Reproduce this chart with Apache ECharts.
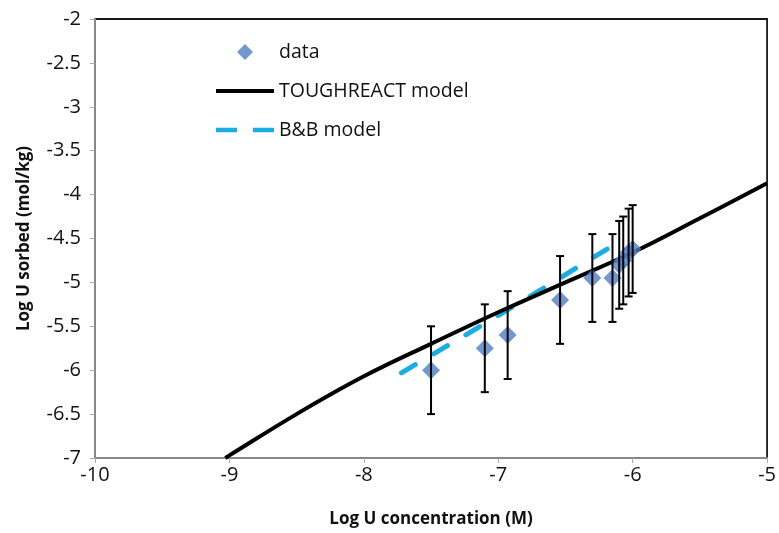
<!DOCTYPE html>
<html>
<head>
<meta charset="utf-8">
<script src="https://cdn.jsdelivr.net/npm/echarts@6/dist/echarts.min.js"></script>
<style>
html,body{margin:0;padding:0;background:#fff;}
#c{width:779px;height:533px;}
</style>
</head>
<body>
<div id="c"></div>
<script>
// Measured data
var dataX = [-7.5, -7.1, -6.93, -6.54, -6.3, -6.15, -6.1, -6.07, -6.03, -6.0];
var dataY = [-6.0, -5.75, -5.6, -5.2, -4.95, -4.95, -4.8, -4.75, -4.66, -4.62];
var dataErr = [0.5, 0.5, 0.5, 0.5, 0.5, 0.5, 0.5, 0.5, 0.5, 0.5];

var toughX = [-9.03, -9.0, -8.5, -8.0, -7.5, -7.0, -6.5, -6.0, -5.5, -5.0];
var toughY = [-7.0, -6.97, -6.5, -6.07, -5.7, -5.34, -5.0, -4.66, -4.27, -3.87];

var bbX = [-7.72, -7.2, -6.7, -6.19];
var bbY = [-6.03, -5.56, -5.1, -4.62];

var xTicks = [-10, -9, -8, -7, -6, -5];
var yTicks = [-7, -6.5, -6, -5.5, -5, -4.5, -4, -3.5, -3, -2.5, -2];

var FONT = 'Open Sans';
var BLUE = '#4F7EC4';
var CYAN = '#1AADE4';

function zip(a, b) { return a.map(function (v, i) { return [v, b[i]]; }); }
var errData = dataX.map(function (x, i) { return [x, dataY[i] - dataErr[i], dataY[i] + dataErr[i]]; });

var chart = echarts.init(document.getElementById('c'), null, {renderer: 'canvas'});
chart.setOption({
  animation: false,
  backgroundColor: '#fff',
  grid: {left: 95, right: 10, top: 19, bottom: 73, show: true, borderColor: '#1a1a1a', borderWidth: 1.8},
  legend: {
    orient: 'vertical', left: 211, top: 37, itemWidth: 58, itemHeight: 16, itemGap: 19,
    symbolKeepAspect: true,
    textStyle: {fontFamily: FONT, fontSize: 19.5, color: '#111'},
    data: [
      {name: 'data', icon: 'path://M0,-1L1,0L0,1L-1,0Z', itemStyle: {color: BLUE}},
      {name: 'TOUGHREACT model', icon: 'path://M0,0H58V4H0Z', itemStyle: {color: '#000'}},
      {name: 'B&B model', icon: 'path://M0,0H21V4.5H0ZM37,0H58V4.5H37Z', itemStyle: {color: CYAN}}
    ]
  },
  xAxis: {
    type: 'value', min: xTicks[0], max: xTicks[xTicks.length - 1], interval: 1,
    name: 'Log U concentration (M)', nameLocation: 'middle', nameGap: 53,
    nameTextStyle: {fontFamily: FONT, fontSize: 17, fontWeight: 'bold', color: '#111'},
    axisLine: {show: true, onZero: false, lineStyle: {color: '#888', width: 2}},
    axisTick: {show: true, length: 5, lineStyle: {color: '#aaa'}},
    axisLabel: {fontFamily: FONT, fontSize: 20, color: '#111', margin: 7},
    splitLine: {show: false}
  },
  yAxis: {
    type: 'value', min: yTicks[0], max: yTicks[yTicks.length - 1], interval: 0.5,
    name: 'Log U sorbed (mol/kg)', nameLocation: 'middle', nameGap: 62, nameRotate: 90,
    nameTextStyle: {fontFamily: FONT, fontSize: 17, fontWeight: 'bold', color: '#111'},
    axisLine: {show: true, onZero: false, lineStyle: {color: '#888', width: 2}},
    axisTick: {show: true, length: 5, lineStyle: {color: '#aaa'}},
    axisLabel: {fontFamily: FONT, fontSize: 20, color: '#111', margin: 14},
    splitLine: {show: false}
  },
  series: [
    {
      name: 'B&B model', type: 'line', data: zip(bbX, bbY), symbol: 'none', z: 2,
      lineStyle: {color: CYAN, width: 5, type: [16, 21.4], cap: 'round'},
      itemStyle: {color: CYAN}
    },
    {
      name: 'TOUGHREACT model', type: 'line', data: zip(toughX, toughY), symbol: 'none', smooth: 0.4, z: 3,
      lineStyle: {color: '#000', width: 4},
      itemStyle: {color: '#000'}
    },
    {
      name: 'data', type: 'scatter', data: zip(dataX, dataY), symbol: 'diamond', symbolSize: [18, 18], z: 4,
      itemStyle: {color: BLUE}
    },
    {
      name: 'err', type: 'custom', z: 5, data: errData,
      renderItem: function (params, api) {
        var x = api.value(0);
        var lo = api.coord([x, api.value(1)]);
        var hi = api.coord([x, api.value(2)]);
        var w = 4;
        var st = {stroke: '#000', lineWidth: 2};
        return {type: 'group', children: [
          {type: 'line', shape: {x1: lo[0], y1: lo[1], x2: hi[0], y2: hi[1]}, style: st},
          {type: 'line', shape: {x1: lo[0] - w, y1: lo[1], x2: lo[0] + w, y2: lo[1]}, style: st},
          {type: 'line', shape: {x1: hi[0] - w, y1: hi[1], x2: hi[0] + w, y2: hi[1]}, style: st}
        ]};
      }
    }
  ]
});
</script>
</body>
</html>
